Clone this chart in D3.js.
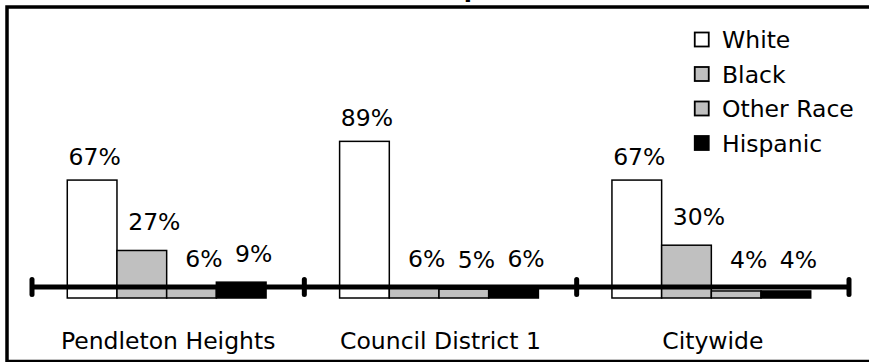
<!DOCTYPE html>
<html>
<head>
<meta charset="utf-8">
<script src="https://cdn.jsdelivr.net/npm/d3@7"></script>
<style>
  body { margin: 0; background: #fff; }
  text { font-family: "DejaVu Sans", Verdana, sans-serif; }
</style>
</head>
<body>
<script>
var categories = ["Pendleton Heights", "Council District 1", "Citywide"];
var series = ["White", "Black", "Other Race", "Hispanic"];
var white = [67, 89, 67];
var black = [27, 6, 30];
var otherRace = [6, 5, 4];
var hispanic = [9, 6, 4];
var values = [white, black, otherRace, hispanic];
var colors = ["#ffffff", "#c0c0c0", "#c0c0c0", "#000000"];

var width = 869;
var height = 362;

const svg = d3.select("body")
    .append("svg")
    .attr("width", width)
    .attr("height", height);

// frame, runs off the right and bottom edge like the original
svg.append("rect")
    .attr("x", 7)
    .attr("y", 7)
    .attr("width", 880)
    .attr("height", 354.5)
    .attr("fill", "none")
    .attr("stroke", "#000")
    .attr("stroke-width", 3.5);

// title sits above the visible area, only a descender shows
svg.append("text")
    .attr("x", 331)
    .attr("y", -3)
    .attr("font-weight", "bold")
    .attr("font-size", 24)
    .text("Race Composition");

const x0 = d3.scaleBand()
    .domain(categories)
    .range([32, 849]);

const x1 = d3.scaleBand()
    .domain(series)
    .range([0, x0.bandwidth()])
    .paddingOuter(0.74);

const y = d3.scaleLinear()
    .domain([0, 100])
    .range([298, 122]);

var rows = [];
categories.forEach(function (c, i) {
    series.forEach(function (s, j) {
        rows.push({ cat: c, ser: s, j: j, v: values[j][i] });
    });
});

svg.selectAll("rect.bar")
    .data(rows)
    .enter()
    .append("rect")
    .attr("class", "bar")
    .attr("x", function (d) { return x0(d.cat) + x1(d.ser) - 1.5 })
    .attr("y", function (d) { return y(d.v) })
    .attr("width", x1.bandwidth())
    .attr("height", function (d) { return y(0) - y(d.v) })
    .attr("fill", function (d) { return colors[d.j] })
    .attr("stroke", "#000")
    .attr("stroke-width", 1.5);

// the thick category line crosses the bars a bit above zero
var axisY = y(0) - 11;
svg.append("line")
    .attr("x1", x0.range()[0])
    .attr("x2", x0.range()[1])
    .attr("y1", axisY)
    .attr("y2", axisY)
    .attr("stroke", "#000")
    .attr("stroke-width", 5);

var tickX = categories.map(function (c) { return x0(c) }).concat([x0.range()[1]]);
svg.selectAll("line.tick")
    .data(tickX)
    .enter()
    .append("line")
    .attr("class", "tick")
    .attr("x1", function (d) { return d })
    .attr("x2", function (d) { return d })
    .attr("y1", axisY - 7.5)
    .attr("y2", axisY + 7.5)
    .attr("stroke", "#000")
    .attr("stroke-width", 5)
    .attr("stroke-linecap", "round");

svg.selectAll("text.cat")
    .data(categories)
    .enter()
    .append("text")
    .attr("class", "cat")
    .attr("x", function (d) { return x0(d) + x0.bandwidth() / 2 })
    .attr("y", 349)
    .attr("text-anchor", "middle")
    .attr("font-size", 23.5)
    .text(function (d) { return d });

// value labels: raised clear of the axis line for the short bars
svg.selectAll("text.val")
    .data(rows)
    .enter()
    .append("text")
    .attr("class", "val")
    .attr("x", function (d) { return x0(d.cat) + x1(d.ser) + x1.bandwidth() / 2 + (d.j == 0 ? 1 : 11) })
    .attr("y", function (d) { return Math.min(y(d.v) - (d.j == 0 ? 15 : 20), y(0) - 30) })
    .attr("text-anchor", "middle")
    .attr("font-size", 23.5)
    .text(function (d) { return d.v + "%" });

// legend
const legend = svg.selectAll("g.legend")
    .data(series)
    .enter()
    .append("g")
    .attr("class", "legend")
    .attr("transform", function (d, i) { return "translate(694," + (39.5 + i * 34.5) + ")" });

legend.append("rect")
    .attr("x", 0.75)
    .attr("y", -7)
    .attr("width", 14)
    .attr("height", 14)
    .attr("fill", function (d, i) { return colors[i] })
    .attr("stroke", "#000")
    .attr("stroke-width", 1.8);

legend.append("text")
    .attr("x", 28)
    .attr("y", 8.5)
    .attr("font-size", 23.5)
    .text(function (d) { return d });
</script>
</body>
</html>
